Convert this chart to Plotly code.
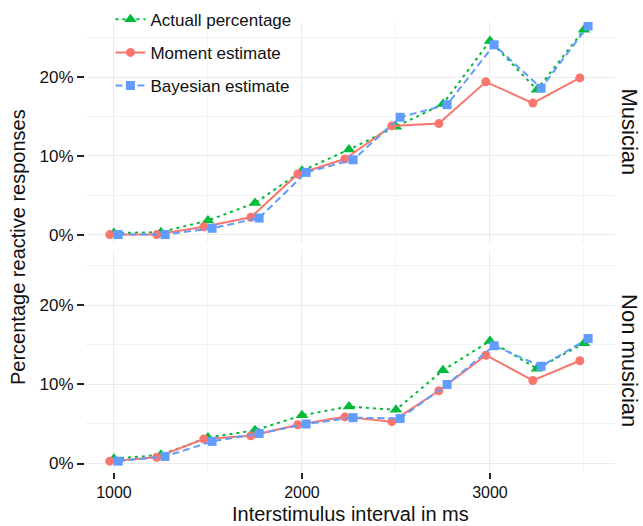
import plotly.graph_objects as go

# ---- data ----
interval_ms = [1000, 1250, 1500, 1750, 2000, 2250, 2500, 2750, 3000, 3250, 3500]

actual_musician = [0.2, 0.3, 1.8, 4.0, 8.1, 10.8, 13.7, 16.6, 24.6, 18.4, 26.0]
moment_musician = [0.0, 0.0, 1.0, 2.2, 7.7, 9.6, 13.8, 14.1, 19.4, 16.7, 19.9]
bayes_musician = [0.0, 0.0, 0.8, 2.1, 7.9, 9.5, 14.9, 16.5, 24.1, 18.6, 26.5]

actual_non = [0.6, 1.1, 3.3, 4.2, 6.1, 7.2, 6.8, 11.8, 15.5, 12.0, 15.2]
moment_non = [0.3, 0.8, 3.1, 3.5, 4.9, 5.9, 5.3, 9.2, 13.7, 10.5, 13.0]
bayes_non = [0.3, 0.9, 2.8, 3.8, 5.0, 5.8, 5.7, 10.0, 14.9, 12.3, 15.8]

series_names = ["Actuall percentage", "Moment estimate", "Bayesian estimate"]
panel_labels = ["Musician", "Non musician"]
x_tick_values = [1000, 2000, 3000]
x_tick_labels = ["1000", "2000", "3000"]
y_tick_values = [0, 10, 20]
y_tick_labels = ["0%", "10%", "20%"]

# ---- styles ----
FONT = "Liberation Sans, Arial, sans-serif"
styles = {
    "Actuall percentage": dict(color="#00BA38", dash="3px,4px", symbol="triangle-up", size=11, offset=0),
    "Moment estimate": dict(color="#F8766D", dash="solid", symbol="circle", size=9, offset=-22),
    "Bayesian estimate": dict(color="#619CFF", dash="7px,4px", symbol="square", size=9, offset=22),
}

panels = [
    ("x", "y", {"Actuall percentage": actual_musician, "Moment estimate": moment_musician,
                "Bayesian estimate": bayes_musician}),
    ("x2", "y2", {"Actuall percentage": actual_non, "Moment estimate": moment_non,
                  "Bayesian estimate": bayes_non}),
]

fig = go.Figure()
for pi, (xa, ya, data) in enumerate(panels):
    for name in series_names:
        st = styles[name]
        fig.add_trace(go.Scatter(
            x=[v + st["offset"] for v in interval_ms],
            y=data[name],
            xaxis=xa, yaxis=ya,
            mode="lines+markers",
            name=name,
            legendgroup=name,
            showlegend=(pi == 0),
            line=dict(color=st["color"], width=2, dash=st["dash"]),
            marker=dict(color=st["color"], symbol=st["symbol"], size=st["size"]),
        ))

grid = "#EBEBEB"
common_x = dict(range=[846, 3665], tickmode="array", tickvals=x_tick_values, ticktext=x_tick_labels,
                showgrid=True, gridcolor=grid, gridwidth=1, zeroline=False,
                showline=False,
                minor=dict(tickmode="array", tickvals=[1500, 2500, 3500], showgrid=True,
                           gridcolor="#F3F3F3", gridwidth=1, ticks=""))
common_y = dict(range=[-1.07, 27.0], tickmode="array", tickvals=y_tick_values,
                ticktext=y_tick_labels, showgrid=True, gridcolor=grid, gridwidth=1,
                zeroline=False, showline=False,
                ticks="outside", ticklen=7, tickwidth=1.5, tickcolor="#222",
                tickfont=dict(size=17, color="#111", family=FONT),
                minor=dict(tickmode="array", tickvals=[5, 15, 25], showgrid=True,
                           gridcolor="#F3F3F3", gridwidth=1, ticks=""))

fig.update_layout(
    width=643, height=526,
    margin=dict(l=85, r=28, t=22, b=54, autoexpand=False),
    paper_bgcolor="white", plot_bgcolor="white",
    font=dict(family=FONT, color="#111"),
    xaxis=dict(common_x, anchor="y", domain=[0, 1], showticklabels=False, ticks=""),
    xaxis2=dict(common_x, anchor="y2", domain=[0, 1], showticklabels=True,
                ticks="outside", ticklen=6, tickwidth=1.5, tickcolor="#222",
                tickfont=dict(size=16, color="#111", family=FONT)),
    yaxis=dict(common_y, anchor="x", domain=[0.5089, 1.0]),
    yaxis2=dict(common_y, anchor="x2", domain=[0.0, 0.4933]),
    legend=dict(x=0.048, y=1.045, xanchor="left", yanchor="top",
                bgcolor="rgba(0,0,0,0)", font=dict(size=17, family=FONT, color="#111"),
                tracegroupgap=8, itemwidth=30),
    showlegend=True,
)

# strip labels on the right
fig.add_annotation(text=panel_labels[0], xref="paper", yref="paper", x=1.0283, y=(0.5089 + 1.0) / 2,
                   textangle=90, showarrow=False, xanchor="center", yanchor="middle",
                   font=dict(size=22, family=FONT, color="#111"))
fig.add_annotation(text=panel_labels[1], xref="paper", yref="paper", x=1.0283, y=0.4933 / 2,
                   textangle=90, showarrow=False, xanchor="center", yanchor="middle",
                   font=dict(size=22, family=FONT, color="#111"))
# axis titles
fig.add_annotation(text="Percentage reactive responses", xref="paper", yref="paper",
                   x=-0.1264, y=0.5, textangle=-90, showarrow=False,
                   xanchor="center", yanchor="middle",
                   font=dict(size=20, family=FONT, color="#111"))
fig.add_annotation(text="Interstimulus interval in ms", xref="paper", yref="paper",
                   x=0.5, y=-0.0933, showarrow=False, xanchor="center", yanchor="middle",
                   font=dict(size=20, family=FONT, color="#111"))

fig.write_html("out.html")
